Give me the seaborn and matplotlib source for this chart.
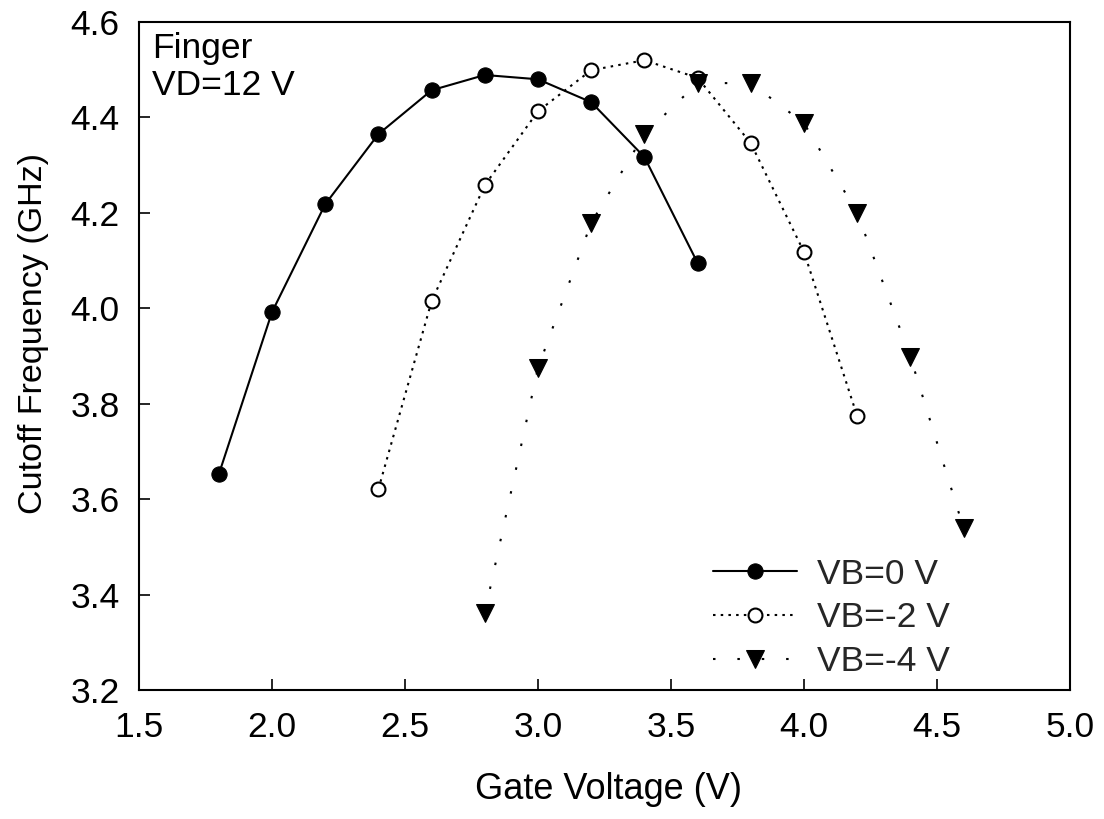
import matplotlib
matplotlib.use("Agg")
import matplotlib.pyplot as plt
import seaborn as sns
import pandas as pd

# Data
vg_0 = [1.8, 2.0, 2.2, 2.4, 2.6, 2.8, 3.0, 3.2, 3.4, 3.6]
fc_0 = [3.652, 3.992, 4.218, 4.365, 4.457, 4.489, 4.480, 4.432, 4.317, 4.095]

vg_2 = [2.4, 2.6, 2.8, 3.0, 3.2, 3.4, 3.6, 3.8, 4.0, 4.2]
fc_2 = [3.621, 4.015, 4.258, 4.413, 4.499, 4.520, 4.483, 4.346, 4.118, 3.774]

vg_4 = [2.8, 3.0, 3.2, 3.4, 3.6, 3.8, 4.0, 4.2, 4.4, 4.6]
fc_4 = [3.362, 3.875, 4.179, 4.365, 4.472, 4.472, 4.388, 4.200, 3.898, 3.539]

labels = ["VB=0 V", "VB=-2 V", "VB=-4 V"]
x_ticks = [1.5, 2.0, 2.5, 3.0, 3.5, 4.0, 4.5, 5.0]
y_ticks = [3.2, 3.4, 3.6, 3.8, 4.0, 4.2, 4.4, 4.6]

sns.set_theme(style="white")
plt.rcParams["font.family"] = ["Liberation Sans", "DejaVu Sans"]

fig = plt.figure(figsize=(11.04, 8.19), dpi=100)
ax = fig.add_axes([0.1259, 0.1575, 0.8433, 0.8156])

d0 = pd.DataFrame({"x": vg_0, "y": fc_0})
d2 = pd.DataFrame({"x": vg_2, "y": fc_2})
d4 = pd.DataFrame({"x": vg_4, "y": fc_4})

sns.lineplot(data=d0, x="x", y="y", ax=ax, sort=False, errorbar=None,
             color="black", linewidth=1.5, linestyle="-",
             marker="o", markersize=11, markerfacecolor="black",
             markeredgecolor="black", label=labels[0])
sns.lineplot(data=d2, x="x", y="y", ax=ax, sort=False, errorbar=None,
             color="black", linewidth=1.5, linestyle=(0, (1.2, 2.5)),
             marker="o", markersize=10, markerfacecolor="white",
             markeredgecolor="black", markeredgewidth=1.5, label=labels[1])
sns.lineplot(data=d4, x="x", y="y", ax=ax, sort=False, errorbar=None,
             color="black", linewidth=1.5, linestyle=(0, (1.2, 10.5)),
             marker="v", markersize=13, markerfacecolor="black",
             markeredgecolor="black", label=labels[2])

ax.set_xlim(1.5, 5.0)
ax.set_ylim(3.2, 4.6)
ax.set_xticks(x_ticks)
ax.set_yticks(y_ticks)
ax.set_xticklabels([f"{v:.1f}" for v in x_ticks])
ax.set_yticklabels([f"{v:.1f}" for v in y_ticks])
ax.tick_params(axis="both", direction="in", length=8, width=1.2,
               labelsize=25.5, colors="black", bottom=True, left=True,
               top=False, right=False)
ax.tick_params(axis="x", pad=15)
ax.tick_params(axis="y", pad=14)

for s in ax.spines.values():
    s.set_visible(True)
    s.set_color("black")
    s.set_linewidth(1.5)

ax.set_xlabel("Gate Voltage (V)", fontsize=26, color="black", va="top")
ax.xaxis.set_label_coords(0.504, -0.123)
ax.set_ylabel("Cutoff Frequency (GHz)", fontsize=24.5, color="black")
ax.yaxis.set_label_coords(-0.097, 0.533)

ax.text(0.014, 0.985, "Finger\nVD=12 V", transform=ax.transAxes,
        fontsize=25.5, va="top", ha="left", color="black", linespacing=1.15)

leg = ax.legend(loc="center left", bbox_to_anchor=(0.6165, 0.108), frameon=False,
                fontsize=25.5, handlelength=2.37, handletextpad=0.56,
                labelspacing=0.30, borderaxespad=0, borderpad=0)

fig.savefig("out.png", dpi=100)
